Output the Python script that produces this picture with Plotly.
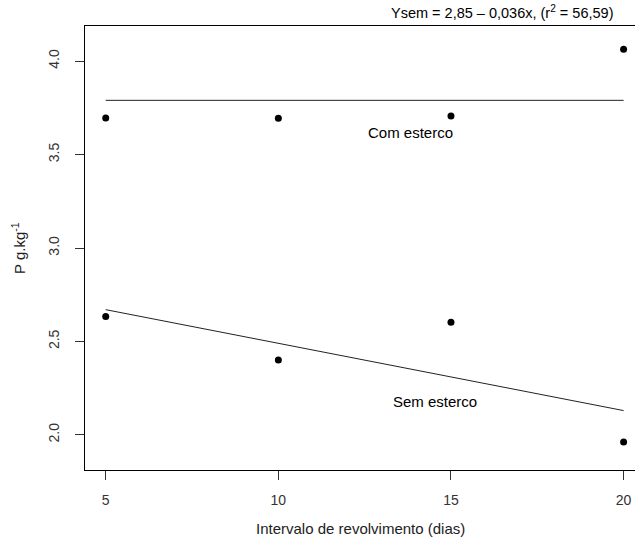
import plotly.graph_objects as go

intervalo = [5, 10, 15, 20]
com_esterco = [3.696, 3.695, 3.707, 4.063]
sem_esterco = [2.633, 2.400, 2.602, 1.962]
sem_intercept = 2.85
sem_slope = -0.036
x_ticks = [5, 10, 15, 20]
y_ticks = [2.0, 2.5, 3.0, 3.5, 4.0]
y_tick_labels = ["2.0", "2.5", "3.0", "3.5", "4.0"]

com_mean = sum(com_esterco) / len(com_esterco)
x_line = [min(intervalo), max(intervalo)]
sem_fit = [sem_intercept + sem_slope * v for v in x_line]

FONT = "Liberation Sans, Arial, sans-serif"

fig = go.Figure()
fig.add_trace(go.Scatter(x=intervalo, y=com_esterco, mode="markers",
                         marker=dict(color="black", size=7), showlegend=False,
                         cliponaxis=False))
fig.add_trace(go.Scatter(x=intervalo, y=sem_esterco, mode="markers",
                         marker=dict(color="black", size=7), showlegend=False,
                         cliponaxis=False))
fig.add_trace(go.Scatter(x=x_line, y=[com_mean, com_mean], mode="lines",
                         line=dict(color="#222", width=1), showlegend=False))
fig.add_trace(go.Scatter(x=x_line, y=sem_fit, mode="lines",
                         line=dict(color="#222", width=1), showlegend=False))

fig.add_annotation(x=13.84, y=3.616, text="Com esterco", showarrow=False,
                   font=dict(size=15, color="black", family=FONT))
fig.add_annotation(x=14.55, y=2.18, text="Sem esterco", showarrow=False,
                   font=dict(size=15, color="black", family=FONT))
fig.add_annotation(xref="paper", yref="paper", x=0.9636, y=1.031, xanchor="right",
                   yanchor="middle", showarrow=False,
                   text="Ysem = 2,85 \u2013 0,036x, (r<sup>2</sup> = 56,59)",
                   font=dict(size=14.5, color="black", family=FONT))
fig.add_annotation(xref="paper", yref="paper", x=0.5, y=-0.131, xanchor="center",
                   yanchor="middle", showarrow=False,
                   text="Intervalo de revolvimento (dias)",
                   font=dict(size=15, color="#222", family=FONT))
fig.add_annotation(xref="paper", yref="paper", x=-0.122, y=0.5, xanchor="center",
                   yanchor="middle", showarrow=False, textangle=-90,
                   text="P g.kg<sup>-1</sup>",
                   font=dict(size=15, color="#222", family=FONT))

fig.update_layout(
    width=635, height=542,
    margin=dict(l=85, r=0, t=26, b=72),
    paper_bgcolor="white", plot_bgcolor="white",
    font=dict(family=FONT, color="#333"),
    xaxis=dict(range=[4.4, 20.33], tickvals=x_ticks, ticks="outside", ticklen=9,
               tickcolor="#333", showline=True, linecolor="black", linewidth=1,
               mirror=True, showgrid=False, zeroline=False,
               tickfont=dict(size=14, color="#333"), ticklabelstandoff=8),
    yaxis=dict(range=[1.812, 4.188], tickvals=y_ticks, ticktext=y_tick_labels,
               ticks="outside", ticklen=9, tickcolor="#333", showline=True,
               linecolor="black", linewidth=1, mirror=False, showgrid=False,
               zeroline=False, tickangle=-90,
               tickfont=dict(size=14, color="#333"), ticklabelstandoff=10),
)

fig.write_html("out.html", config={"displayModeBar": False},
               post_script="document.body.style.margin='0';document.body.style.overflow='hidden';")
